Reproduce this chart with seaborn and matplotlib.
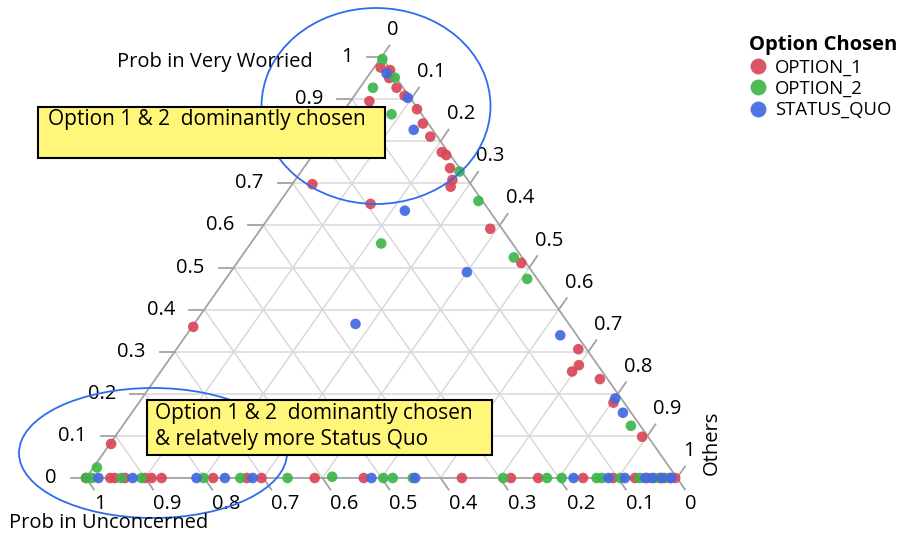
import matplotlib
matplotlib.use("Agg")
import matplotlib.pyplot as plt
import numpy as np
import pandas as pd
import seaborn as sns
from matplotlib.patches import Rectangle, Ellipse

# ---------------- data (probabilities per respondent) ----------------
opt1_worried = [0.975, 0.969, 0.950, 0.927, 0.908, 0.895, 0.876, 0.842, 0.811, 0.774,
                0.767, 0.736, 0.708, 0.692, 0.698, 0.651, 0.592, 0.511, 0.306, 0.268,
                0.253, 0.235, 0.179, 0.098, 0.359, 0.081,
                0, 0, 0, 0, 0, 0, 0, 0, 0, 0, 0, 0, 0, 0, 0, 0, 0, 0, 0, 0, 0, 0]
opt1_others = [0.011, 0.030, 0.038, 0.062, 0.085, 0.032, 0.122, 0.149, 0.177, 0.215,
               0.226, 0.248, 0.266, 0.271, 0.034, 0.156, 0.388, 0.481, 0.680, 0.700,
               0.696, 0.752, 0.803, 0.892, 0.002, 0.002,
               0.000, 0.041, 0.049, 0.066, 0.100, 0.111, 0.128, 0.215, 0.272, 0.297,
               0.387, 0.470, 0.636, 0.719, 0.765, 0.841, 0.892, 0.929, 0.950, 0.971,
               0.988, 0.997]
opt1_unconcerned = [0.014, 0.001, 0.012, 0.011, 0.007, 0.073, 0.002, 0.009, 0.012, 0.011,
                    0.007, 0.016, 0.026, 0.037, 0.268, 0.193, 0.020, 0.008, 0.014, 0.032,
                    0.051, 0.013, 0.018, 0.010, 0.639, 0.917,
                    1.000, 0.959, 0.951, 0.934, 0.900, 0.889, 0.872, 0.785, 0.728, 0.703,
                    0.613, 0.530, 0.364, 0.281, 0.235, 0.159, 0.108, 0.071, 0.050, 0.029,
                    0.012, 0.003]

opt2_worried = [0.995, 0.951, 0.927, 0.864, 0.728, 0.658, 0.557, 0.524, 0.473, 0.124,
                0.025, 0.003,
                0, 0, 0, 0, 0, 0, 0, 0, 0, 0, 0, 0, 0, 0, 0, 0, 0, 0, 0]
opt2_others = [0.004, 0.047, 0.022, 0.085, 0.268, 0.335, 0.221, 0.462, 0.510, 0.860,
               0.006, 0.415,
               0.000, 0.010, 0.060, 0.094, 0.199, 0.261, 0.341, 0.503, 0.519, 0.553,
               0.706, 0.780, 0.805, 0.864, 0.873, 0.904, 0.937, 0.962, 0.980]
opt2_unconcerned = [0.001, 0.002, 0.051, 0.051, 0.004, 0.007, 0.222, 0.014, 0.017, 0.016,
                    0.969, 0.582,
                    1.000, 0.990, 0.940, 0.906, 0.801, 0.739, 0.659, 0.497, 0.481, 0.447,
                    0.294, 0.220, 0.195, 0.136, 0.127, 0.096, 0.063, 0.038, 0.020]

sq_worried = [0.961, 0.903, 0.827, 0.635, 0.489, 0.366, 0.339, 0.189, 0.155,
              0, 0, 0, 0, 0, 0, 0, 0, 0, 0, 0, 0, 0, 0]
sq_others = [0.028, 0.093, 0.141, 0.222, 0.400, 0.273, 0.633, 0.801, 0.831,
             0.021, 0.079, 0.187, 0.235, 0.282, 0.483, 0.557, 0.825, 0.884, 0.912,
             0.946, 0.958, 0.975, 0.990]
sq_unconcerned = [0.011, 0.004, 0.032, 0.143, 0.111, 0.361, 0.028, 0.010, 0.014,
                  0.979, 0.921, 0.813, 0.765, 0.718, 0.517, 0.443, 0.175, 0.116, 0.088,
                  0.054, 0.042, 0.025, 0.010]

options = ["OPTION_1", "OPTION_2", "STATUS_QUO"]
colors = ["#D94658", "#3DB54A", "#4169E1"]
tick_values = [0, 0.1, 0.2, 0.3, 0.4, 0.5, 0.6, 0.7, 0.8, 0.9, 1]
tick_labels = ["0", "0.1", "0.2", "0.3", "0.4", "0.5", "0.6", "0.7", "0.8", "0.9", "1"]

frames = []
for name, w, o, u in [("OPTION_1", opt1_worried, opt1_others, opt1_unconcerned),
                      ("OPTION_2", opt2_worried, opt2_others, opt2_unconcerned),
                      ("STATUS_QUO", sq_worried, sq_others, sq_unconcerned)]:
    frames.append(pd.DataFrame({"Very Worried": w, "Others": o, "Unconcerned": u,
                                "Option Chosen": name}))
df = pd.concat(frames, ignore_index=True)
# ternary -> cartesian (Unconcerned at left, Others at right, Very Worried at top)
df["x"] = df["Others"] + 0.5 * df["Very Worried"]
df["y"] = df["Very Worried"]

# ---------------- figure ----------------
W, H = 906, 540
X0, X1, YB, YT = 86, 677, 478, 57
SX, SY = X1 - X0, YB - YT

plt.rcParams["font.family"] = ["Open Sans", "DejaVu Sans"]
FS = 14.5
FS_BOX = 15
FS_LEG = 13.3

fig = plt.figure(figsize=(W / 100, H / 100), dpi=100)
ax = fig.add_axes([0, 0, 1, 1])
ax.set_xlim(-X0 / SX, (W - X0) / SX)
ax.set_ylim(-(H - YB) / SY, YB / SY)
ax.axis("off")

def fx(px):
    return px / W

def fy(py):
    return 1 - py / H

grid_c = "#d9d9d9"
edge_c = "#a3a3a3"
for t in tick_values[1:-1]:
    ax.plot([0.5 * t, 1 - 0.5 * t], [t, t], color=grid_c, lw=1.1, zorder=1)
    ax.plot([t, t + 0.5 * (1 - t)], [0, 1 - t], color=grid_c, lw=1.1, zorder=1)
    ax.plot([1 - t, 0.5 * (1 - t)], [0, 1 - t], color=grid_c, lw=1.1, zorder=1)
ax.plot([0, 1, 0.5, 0], [0, 0, 1, 0], color=edge_c, lw=1.3, zorder=2)

dxp, dyp = 8 / SX, 11.5 / SY
for t, lab in zip(tick_values, tick_labels):
    # left axis (Very Worried)
    px, py = 0.5 * t, t
    ax.plot([px, px - 15 / SX], [py, py], color=edge_c, lw=1.3, zorder=2)
    ax.text(px - 29 / SX, py, lab, ha="right", va="center", fontsize=FS, zorder=2)
    # bottom axis (Unconcerned)
    bx = 1 - t
    ax.plot([bx, bx + dxp], [0, -dyp], color=edge_c, lw=1.3, zorder=2)
    ax.text(bx + 8 / SX, -26 / SY, lab, ha="left", va="center", fontsize=FS, zorder=2)
    # right axis (Others)
    rx, ry = t + 0.5 * (1 - t), 1 - t
    ax.plot([rx, rx + dxp], [ry, ry + dyp], color=edge_c, lw=1.3, zorder=2)
    ax.text(rx + 6 / SX, ry + 27 / SY, lab, ha="left", va="center", fontsize=FS, zorder=2)

sns.scatterplot(data=df, x="x", y="y", hue="Option Chosen", hue_order=options,
                palette=dict(zip(options, colors)), s=58, edgecolor="none",
                alpha=0.92, ax=ax, zorder=3)

sns.move_legend(ax, loc="upper left", bbox_to_anchor=(fx(740), fy(26)),
                bbox_transform=fig.transFigure, frameon=False, title="Option Chosen",
                fontsize=FS_LEG, title_fontsize=FS, markerscale=1.5, handlelength=0.9,
                handletextpad=0.5, labelspacing=0.18, borderpad=0)
leg = ax.get_legend()
leg.get_title().set_fontweight("bold")
leg._legend_box.align = "left"

# axis titles
fig.text(fx(215), fy(62), "Prob in Very Worried", ha="center", va="center", fontsize=FS)
fig.text(fx(9), fy(523), "Prob in Unconcerned", ha="left", va="center", fontsize=FS)
fig.text(fx(712), fy(443), "Others", rotation=90, ha="center", va="center", fontsize=FS)

# highlight ellipses
for cx, cy, ew, eh in [(376, 106, 229, 196), (153, 453, 268, 130)]:
    ax.add_patch(Ellipse((fx(cx), fy(cy)), ew / W, eh / H, transform=fig.transFigure,
                         fill=False, ec="#2F6BEF", lw=1.3, zorder=4, clip_on=False))

# annotation boxes
for x0, y0, x1, y1 in [(38, 107, 385, 158), (147, 400, 492, 455)]:
    ax.add_patch(Rectangle((fx(x0), fy(y1)), (x1 - x0) / W, (y1 - y0) / H,
                           transform=fig.transFigure, fc="#FFF67A", ec="black",
                           lw=1.5, zorder=5, clip_on=False))
fig.text(fx(48), fy(120), "Option 1 & 2  dominantly chosen", ha="left", va="center",
         fontsize=FS_BOX)
fig.text(fx(155), fy(413), "Option 1 & 2  dominantly chosen", ha="left", va="center",
         fontsize=FS_BOX)
fig.text(fx(155), fy(439), "& relatvely more Status Quo", ha="left", va="center",
         fontsize=FS_BOX)

fig.savefig("out.png", dpi=100)
